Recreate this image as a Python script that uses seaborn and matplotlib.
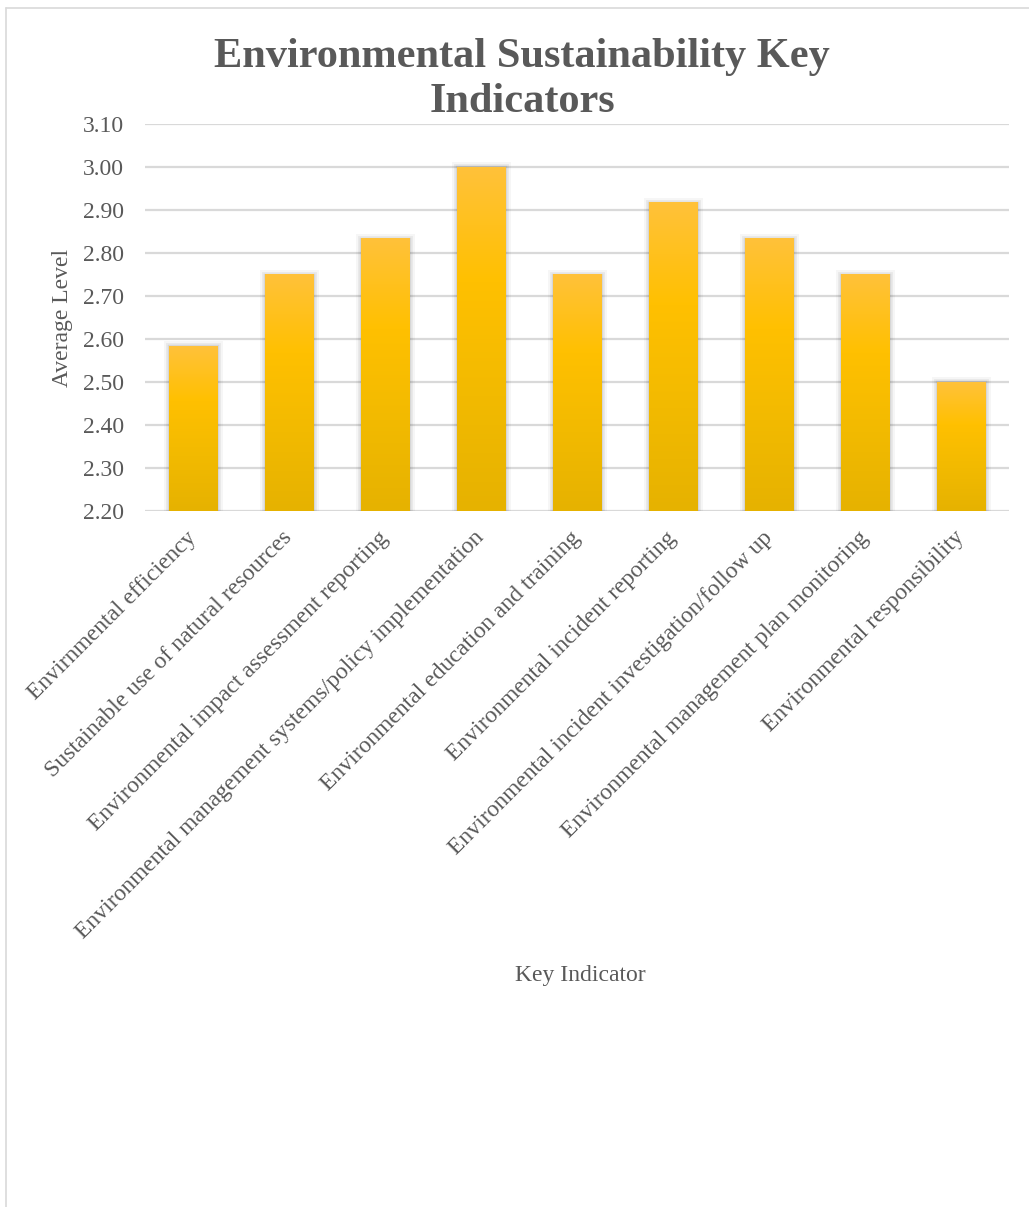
import numpy as np
import pandas as pd
import seaborn as sns
import matplotlib.pyplot as plt
from matplotlib import patheffects as pe
from matplotlib.colors import LinearSegmentedColormap
from matplotlib.lines import Line2D

indicators = [
    "Envirnmental efficiency",
    "Sustainable use of natural resources",
    "Environmental impact assessment reporting",
    "Environmental management systems/policy implementation",
    "Environmental education and training",
    "Environmental incident reporting",
    "Environmental incident investigation/follow up",
    "Environmental management plan monitoring",
    "Environmental responsibility",
]
average_level = [2.583, 2.75, 2.833, 3.0, 2.75, 2.917, 2.833, 2.75, 2.5]
y_ticks = [2.20, 2.30, 2.40, 2.50, 2.60, 2.70, 2.80, 2.90, 3.00, 3.10]

df = pd.DataFrame({"Key Indicator": indicators, "Average Level": average_level})

sns.set_theme(style="white")
plt.rcParams["font.family"] = ["Liberation Serif", "DejaVu Serif"]
text_grey = "#595959"
grid_grey = "#D9D9D9"
fs = 17

W, H, DPI = 1029, 1207, 100
fig = plt.figure(figsize=(W / DPI, H / DPI), dpi=DPI)
ax = fig.add_axes([145 / W, 1 - 511 / H, (1009 - 145) / W, (511 - 124) / H])

sns.barplot(data=df, x="Key Indicator", y="Average Level", ax=ax,
            color="#FFC000", width=0.51, saturation=1, zorder=3)

y_min, y_max = 2.20, 3.10
ax.set_ylim(y_min, y_max)
ax.set_yticks(y_ticks)
ax.set_yticklabels([f"{v:.2f}" for v in y_ticks], fontsize=fs, color=text_grey)
ax.set_xlim(-0.5, len(indicators) - 0.5)
ax.yaxis.grid(True, color=grid_grey, linewidth=1.6, zorder=0)
ax.xaxis.grid(False)
for s in ax.spines.values():
    s.set_visible(False)
ax.tick_params(axis="y", length=0, pad=15)
ax.tick_params(axis="x", length=0, pad=17)

ax.set_xticks(range(len(indicators)))
ax.set_xticklabels(indicators, rotation=45, ha="right", va="center",
                   rotation_mode="anchor", fontsize=fs, color=text_grey)

ax.set_ylabel("Average Level", fontsize=fs, color=text_grey)
ax.yaxis.set_label_coords((73 - 145) / 864, 0.5)
ax.set_xlabel("")
fig.text(580 / W, 1 - 975 / H, "Key Indicator", fontsize=fs, color=text_grey,
         ha="center", va="center")

# gold vertical gradient with a soft shadow on each bar
gold = LinearSegmentedColormap.from_list(
    "gold", ["#E6B200", "#F2BA00", "#FFC000", "#FFC23A"])
grad = np.linspace(0, 1, 256).reshape(-1, 1)
for bar in ax.patches:
    x0 = bar.get_x()
    w = bar.get_width()
    top = bar.get_y() + bar.get_height()
    bottom = max(bar.get_y(), y_min)
    bar.set_path_effects([
        pe.withStroke(linewidth=8, foreground=(0, 0, 0, 0.035)),
        pe.withStroke(linewidth=5, foreground=(0, 0, 0, 0.05)),
        pe.withStroke(linewidth=2.5, foreground=(0, 0, 0, 0.08)),
    ])
    bar.set_edgecolor("none")
    ax.imshow(grad, extent=[x0, x0 + w, bottom, top], origin="lower",
              cmap=gold, aspect="auto", zorder=4)
ax.set_xlim(-0.5, len(indicators) - 0.5)
ax.set_ylim(y_min, y_max)

fig.text(522 / W, 1 - 57 / H, "Environmental Sustainability Key",
         fontsize=30.5, fontweight="bold", color=text_grey, ha="center", va="center")
fig.text(522 / W, 1 - 102 / H, "Indicators",
         fontsize=30.5, fontweight="bold", color=text_grey, ha="center", va="center")

# chart-area frame
fig.add_artist(Line2D([6 / W, 6 / W], [0, 1 - 8 / H], color="#D9D9D9", linewidth=1.2,
                      transform=fig.transFigure))
fig.add_artist(Line2D([6 / W, 1], [1 - 8 / H, 1 - 8 / H], color="#D9D9D9", linewidth=1.2,
                      transform=fig.transFigure))

fig.savefig("out.png", dpi=DPI, facecolor="white")
